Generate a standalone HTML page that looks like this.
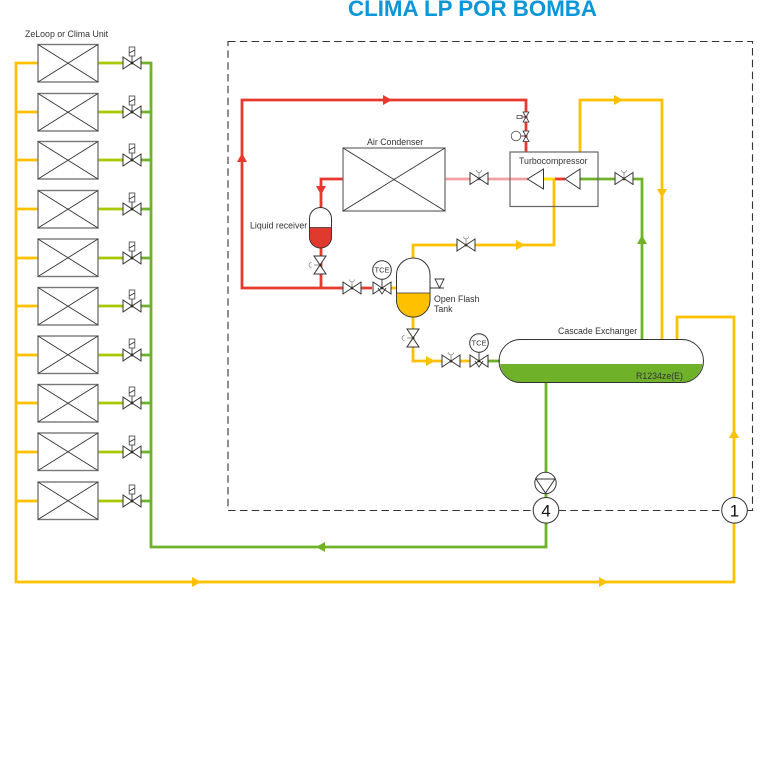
<!DOCTYPE html>
<html><head><meta charset="utf-8"><style>
html,body{margin:0;padding:0;background:#fff}
svg{display:block;filter:blur(.3px)}
text{font-family:"Liberation Sans",sans-serif;fill:#333;font-size:8.800px}
.p{fill:none;stroke-width:2.800}
.y{stroke:#ffc000}.g{stroke:#70b12a}.r{stroke:#e8392f}.lg{stroke:#a8c800}.pk{stroke:#f2a0a0}
.o{fill:#fff;stroke:#333;stroke-width:1}
.l{stroke:#333;stroke-width:.9;fill:none}
</style></head><body>
<svg width="768" height="768" viewBox="0 0 768 768" xmlns="http://www.w3.org/2000/svg">
<defs>
<g id="v"><path d="M-9,-6 L9,6 L9,-6 L-9,6 Z" fill="#fff" stroke="#333" stroke-width="1"/><circle r="1.300" fill="#222"/></g>
<g id="vh"><use href="#v"/><path d="M0,0 V-6 M-2.500,-8.500 A2.500,2.500 0 0 0 2.500,-8.500" stroke="#777" stroke-width=".7" fill="none"/></g>
<g id="vv"><path d="M-6,-9 L6,9 L-6,9 L6,-9 Z" fill="#fff" stroke="#333" stroke-width="1"/><circle r="1.300" fill="#222"/><path d="M0,0 H-6 M-8.500,-2.500 A2.500,2.500 0 0 0 -8.500,2.500" stroke="#777" stroke-width=".7" fill="none"/></g>
<g id="vc"><use href="#v"/><path d="M0,0 V-7" class="l"/><rect x="-2.800" y="-16" width="5.600" height="9" fill="#fff" stroke="#555" stroke-width=".9"/><path d="M-2.800,-10 L2.800,-13" class="l" stroke-width=".7"/></g>
<g id="tce"><use href="#v"/><path d="M-4,0 L0,6 L4,0 M0,0 V-9" class="l"/><circle cy="-18" r="9.300" class="o"/><text y="-15.500" text-anchor="middle" style="font-size:7.500px">TCE</text></g>
<g id="u"><rect x="38" y="0" width="60" height="37.500" fill="#fff" stroke="#777" stroke-width="1.400"/><path d="M38,0 L98,37.500 M98,0 L38,37.500" class="l"/></g>
<g id="ar"><path d="M-4,-5 L5,0 L-4,5 Z"/></g>
</defs>

<text x="348" y="16" style="font-size:22.300px;font-weight:bold;fill:#0a96d8">CLIMA LP POR BOMBA</text>

<rect x="228" y="41.500" width="524.500" height="469" fill="none" stroke="#333" stroke-width="1.100" stroke-dasharray="7.500 4.300"/>

<!-- left yellow header and unit branches -->
<path class="p y" d="M38,63 H16 V582 H734 V317 H677 V340"/>
<path class="p y" d="M16,112 H38 M16,160 H38 M16,209 H38 M16,258 H38 M16,306 H38 M16,355 H38 M16,403 H38 M16,452 H38 M16,501 H38"/>
<!-- right green header -->
<path class="p g" d="M132,63 H151 V547 H546 V382"/>
<path class="p g" d="M132,112 H151 M132,160 H151 M132,209 H151 M132,258 H151 M132,306 H151 M132,355 H151 M132,403 H151 M132,452 H151 M132,501 H151"/>
<path class="p lg" d="M98,63 H132 M98,112 H132 M98,160 H132 M98,209 H132 M98,258 H132 M98,306 H132 M98,355 H132 M98,403 H132 M98,452 H132 M98,501 H132"/>

<use href="#u" y="44.500"/><use href="#u" y="93.500"/><use href="#u" y="141.500"/><use href="#u" y="190.500"/><use href="#u" y="239"/><use href="#u" y="287.500"/><use href="#u" y="336"/><use href="#u" y="384.500"/><use href="#u" y="433"/><use href="#u" y="482"/>
<use href="#vc" x="132" y="63"/><use href="#vc" x="132" y="112"/><use href="#vc" x="132" y="160"/><use href="#vc" x="132" y="209"/><use href="#vc" x="132" y="258"/><use href="#vc" x="132" y="306"/><use href="#vc" x="132" y="355"/><use href="#vc" x="132" y="403"/><use href="#vc" x="132" y="452"/><use href="#vc" x="132" y="501"/>
<text x="25" y="37">ZeLoop or Clima Unit</text>

<!-- process lines -->
<path class="p r" d="M526,152 V100 H242 V288 H372"/>
<path class="p r" d="M343,179 H321 V288"/>
<path class="p pk" d="M445,179 H528"/>
<path class="p" stroke="#ffe000" d="M543,179 H555"/>
<path class="p r" d="M555,179 H565"/>
<path class="p g" d="M580,179 H642 V340"/>
<path class="p y" d="M580,152 V100 H662 V340"/>
<path class="p y" d="M413,258 V245 H554 V179"/>
<path class="p y" d="M388,288 H397 M413,317 V361 H482"/>
<path class="p g" d="M486,361 H500"/>

<!-- turbocompressor -->
<rect x="510" y="152" width="88" height="54.500" fill="none" stroke="#666" stroke-width="1.200"/>
<path d="M527.500,179 L543.500,169 V189 Z M565,179 L580,169 V189 Z" fill="#fff" stroke="#333" stroke-width="1"/>
<text x="519" y="164">Turbocompressor</text>

<!-- air condenser -->
<rect x="343" y="148" width="102" height="63" fill="#fff" stroke="#666" stroke-width="1.200"/>
<path d="M343,148 L445,211 M445,148 L343,211" class="l"/>
<text x="367" y="145">Air Condenser</text>

<!-- liquid receiver -->
<rect x="309.500" y="207.500" width="22" height="40.500" rx="11" ry="11" fill="#fff" stroke="#333"/>
<path d="M309.500,227.500 H331.500 V237 A11,11 0 0 1 309.500,237 Z" fill="#e03a2e" stroke="#333" stroke-width=".8"/>
<text x="250" y="228.500">Liquid receiver</text>

<!-- flash tank -->
<rect x="396.500" y="258" width="33.500" height="59" rx="16.700" ry="16.700" fill="#fff" stroke="#333"/>
<path d="M396.500,293 H430 V300.300 A16.700,16.700 0 0 1 396.500,300.300 Z" fill="#ffc000" stroke="#333" stroke-width=".8"/>
<path d="M430,288 H444 M435,279 H444 L439.500,288 Z" fill="#fff" stroke="#333" stroke-width=".9"/>
<text x="434" y="302">Open Flash</text>
<text x="434" y="312">Tank</text>

<!-- exchanger -->
<path d="M500,364 H702.500 A21.500,21.500 0 0 1 681.500,382.500 H520.500 A21.500,21.500 0 0 1 500,364 Z" fill="#70b12a"/>
<rect x="499" y="339.500" width="204.500" height="43" rx="21.500" ry="21.500" fill="none" stroke="#333"/>
<text x="558" y="334">Cascade Exchanger</text>
<text x="636" y="379">R1234ze(E)</text>

<!-- valves -->
<use href="#vh" x="479" y="178.500"/>
<use href="#vh" x="624" y="178.500"/>
<use href="#vh" x="466" y="245"/>
<use href="#vv" x="320" y="265"/>
<use href="#vh" x="352" y="288"/>
<use href="#tce" x="382" y="288"/>
<use href="#vv" x="413" y="338"/>
<use href="#vh" x="451" y="361"/>
<use href="#tce" x="479" y="361"/>
<path d="M523,112 L529,122 H523 L529,112 Z M523,131 L529,141.500 H523 L529,131 Z" fill="#fff" stroke="#333" stroke-width=".8"/>
<path d="M526,117 H521" class="l"/><rect x="517" y="115.500" width="5" height="3" fill="#fff" stroke="#333" stroke-width=".7"/>
<circle cx="516" cy="136" r="4.800" fill="#fff" stroke="#333" stroke-width=".7"/><path d="M521,136 H526" class="l"/>

<!-- arrowheads -->
<g fill="#e8392f"><use href="#ar" transform="translate(387,100)"/><use href="#ar" transform="translate(242,158) rotate(-90)"/><use href="#ar" transform="translate(321,190) rotate(90)"/></g>
<g fill="#ffc000"><use href="#ar" transform="translate(618,100)"/><use href="#ar" transform="translate(662,193) rotate(90)"/><use href="#ar" transform="translate(520,245)"/><use href="#ar" transform="translate(430,361)"/><use href="#ar" transform="translate(734,434) rotate(-90)"/><use href="#ar" transform="translate(196,582)"/><use href="#ar" transform="translate(603,582)"/></g>
<g fill="#70b12a"><use href="#ar" transform="translate(642,240) rotate(-90)"/><use href="#ar" transform="translate(321,547) rotate(180)"/></g>

<!-- pump and state circles -->
<circle cx="545.500" cy="483" r="10.700" class="o"/>
<path d="M536,479 H555 L545.500,493 Z" fill="#fff" stroke="#333"/>
<circle cx="546" cy="510.300" r="12.800" class="o"/>
<text x="546" y="516.500" text-anchor="middle" style="font-size:17px;fill:#111">4</text>
<circle cx="734.500" cy="510.300" r="12.800" class="o"/>
<text x="734.500" y="516.500" text-anchor="middle" style="font-size:17px;fill:#111">1</text>
</svg>
</body></html>
